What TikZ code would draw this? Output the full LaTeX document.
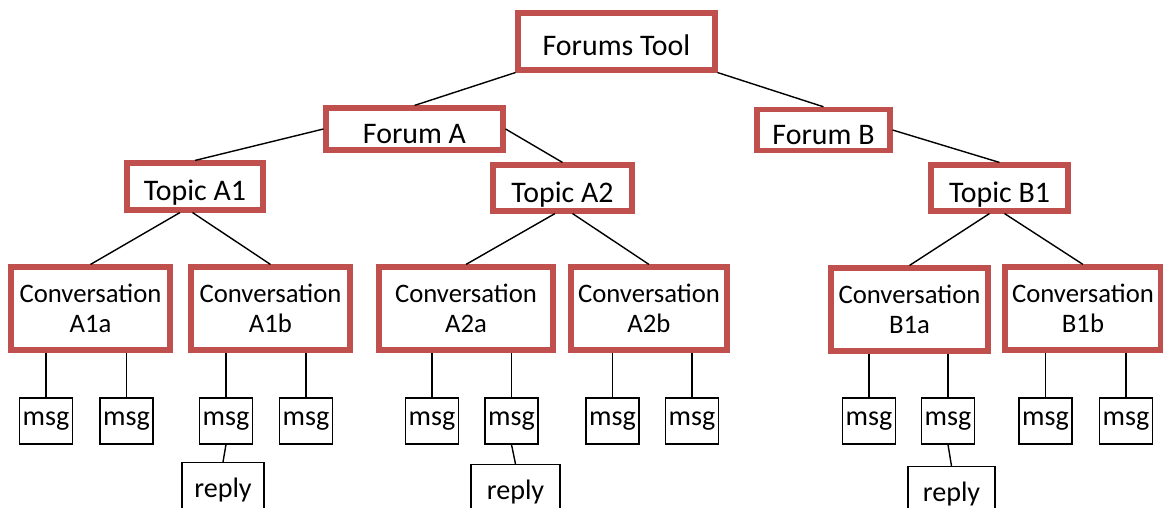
\documentclass[tikz,border=0pt]{standalone}
\usepackage{fontspec}
\setmainfont{Carlito}
\definecolor{boxred}{HTML}{C0504D}
\begin{document}
\begin{tikzpicture}[
        scale=1,
        font=\fontsize{16}{19}\selectfont
    ]
    \tikzset{
        rednode/.style = {rectangle, draw=boxred, line width=2.9pt, align=center, fill=white, inner sep=0pt,
            font=\fontsize{17}{20}\selectfont, text height=20pt, text depth=3.5pt},
        convnode/.style = {rectangle, draw=boxred, line width=2.9pt, align=center, fill=white, inner sep=0pt,
            minimum height=1.66cm, font=\fontsize{15.2}{17}\selectfont},
        msgnode/.style = {rectangle, draw=black, line width=0.6pt, minimum width=1.06cm, minimum height=0.92cm, inner sep=0pt},
        replynode/.style = {rectangle, draw=black, line width=0.6pt, minimum height=1.1cm, inner sep=0pt, anchor=north},
        edgen/.style = {-, line width=0.8pt},
    }
    \useasboundingbox (0,0) rectangle (23.26,10.16);
    \node[rednode, minimum width=3.94cm, minimum height=1.14cm] at (12.33,9.33) (ft) {Forums Tool};
    \node[rednode, minimum width=3.54cm, minimum height=0.84cm] at (8.29,7.58) (fa) {Forum A};
    \node[rednode, minimum width=2.66cm, minimum height=0.80cm] at (16.47,7.56) (fb) {Forum B};
    \node[rednode, minimum width=2.72cm, minimum height=0.94cm] at (3.90,6.43) (ta1) {Topic A1};
    \node[rednode, minimum width=2.78cm, minimum height=0.92cm] at (11.25,6.40) (ta2) {Topic A2};
    \node[rednode, minimum width=2.74cm, minimum height=0.92cm] at (19.99,6.40) (tb1) {Topic B1};
    %
    \node[convnode, minimum width=3.18cm] at (1.81,3.99) (ca1a) {Conversation\\A1a};
    \node[convnode, minimum width=3.18cm] at (5.41,3.99) (ca1b) {Conversation\\A1b};
    \node[convnode, minimum width=3.48cm] at (9.32,3.99) (ca2a) {Conversation\\A2a};
    \node[convnode, minimum width=3.12cm] at (12.98,3.99) (ca2b) {Conversation\\A2b};
    \node[convnode, minimum width=3.14cm] at (18.19,3.97) (cb1a) {Conversation\\B1a};
    \node[convnode, minimum width=3.12cm] at (21.66,3.99) (cb1b) {Conversation\\B1b};
    %
    \node[msgnode] at (0.92,1.74) (m1) {msg};
    \node[msgnode] at (2.53,1.74) (m2) {msg};
    \node[msgnode] at (4.52,1.74) (m3) {msg};
    \node[msgnode] at (6.12,1.74) (m4) {msg};
    \node[msgnode] at (8.64,1.74) (m5) {msg};
    \node[msgnode] at (10.23,1.74) (m6) {msg};
    \node[msgnode] at (12.25,1.74) (m7) {msg};
    \node[msgnode] at (13.84,1.74) (m8) {msg};
    \node[msgnode] at (17.38,1.74) (m9) {msg};
    \node[msgnode] at (18.96,1.74) (m10) {msg};
    \node[msgnode] at (20.91,1.74) (m11) {msg};
    \node[msgnode] at (22.52,1.74) (m12) {msg};
    %
    \node[replynode, minimum width=1.64cm] at (4.46,0.92) (r1) {reply};
    \node[replynode, minimum width=1.78cm] at (10.31,0.88) (r2) {reply};
    \node[replynode, minimum width=1.74cm] at (19.03,0.84) (r3) {reply};
    %
    \draw[edgen] (ft.south west) -- (fa.north);
    \draw[edgen] (ft.south east) -- (fb.north);
    \draw[edgen] (fa.west) -- (ta1.north);
    \draw[edgen] (fa.east) -- (ta2.north);
    \draw[edgen] (fb.east) -- (tb1.north);
    %
    \draw[edgen] ([xshift=-0.3cm]ta1.south) -- (ca1a.north);
    \draw[edgen] ([xshift=-0.05cm]ta1.south) -- (ca1b.north);
    \draw[edgen] ([xshift=-0.15cm]ta2.south) -- (ca2a.north);
    \draw[edgen] ([xshift=0.2cm]ta2.south) -- (ca2b.north);
    \draw[edgen] ([xshift=-0.2cm]tb1.south) -- (cb1a.north);
    \draw[edgen] ([xshift=0.1cm]tb1.south) -- (cb1b.north);
    %
    \draw[edgen] (m1.north) -- (m1.north |- ca1a.south);
    \draw[edgen] (m2.north) -- (m2.north |- ca1a.south);
    \draw[edgen] (m3.north) -- (m3.north |- ca1b.south);
    \draw[edgen] (m4.north) -- (m4.north |- ca1b.south);
    \draw[edgen] (m5.north) -- (m5.north |- ca2a.south);
    \draw[edgen] (m6.north) -- (m6.north |- ca2a.south);
    \draw[edgen] (m7.north) -- (m7.north |- ca2b.south);
    \draw[edgen] (m8.north) -- (m8.north |- ca2b.south);
    \draw[edgen] (m9.north) -- (m9.north |- cb1a.south);
    \draw[edgen] (m10.north) -- (m10.north |- cb1a.south);
    \draw[edgen] (m11.north) -- (m11.north |- cb1b.south);
    \draw[edgen] (m12.north) -- (m12.north |- cb1b.south);
    %
    \draw[edgen] (m3.south) -- (r1.north);
    \draw[edgen] (m6.south) -- (r2.north);
    \draw[edgen] (m10.south) -- (r3.north);
\end{tikzpicture}
\end{document}
